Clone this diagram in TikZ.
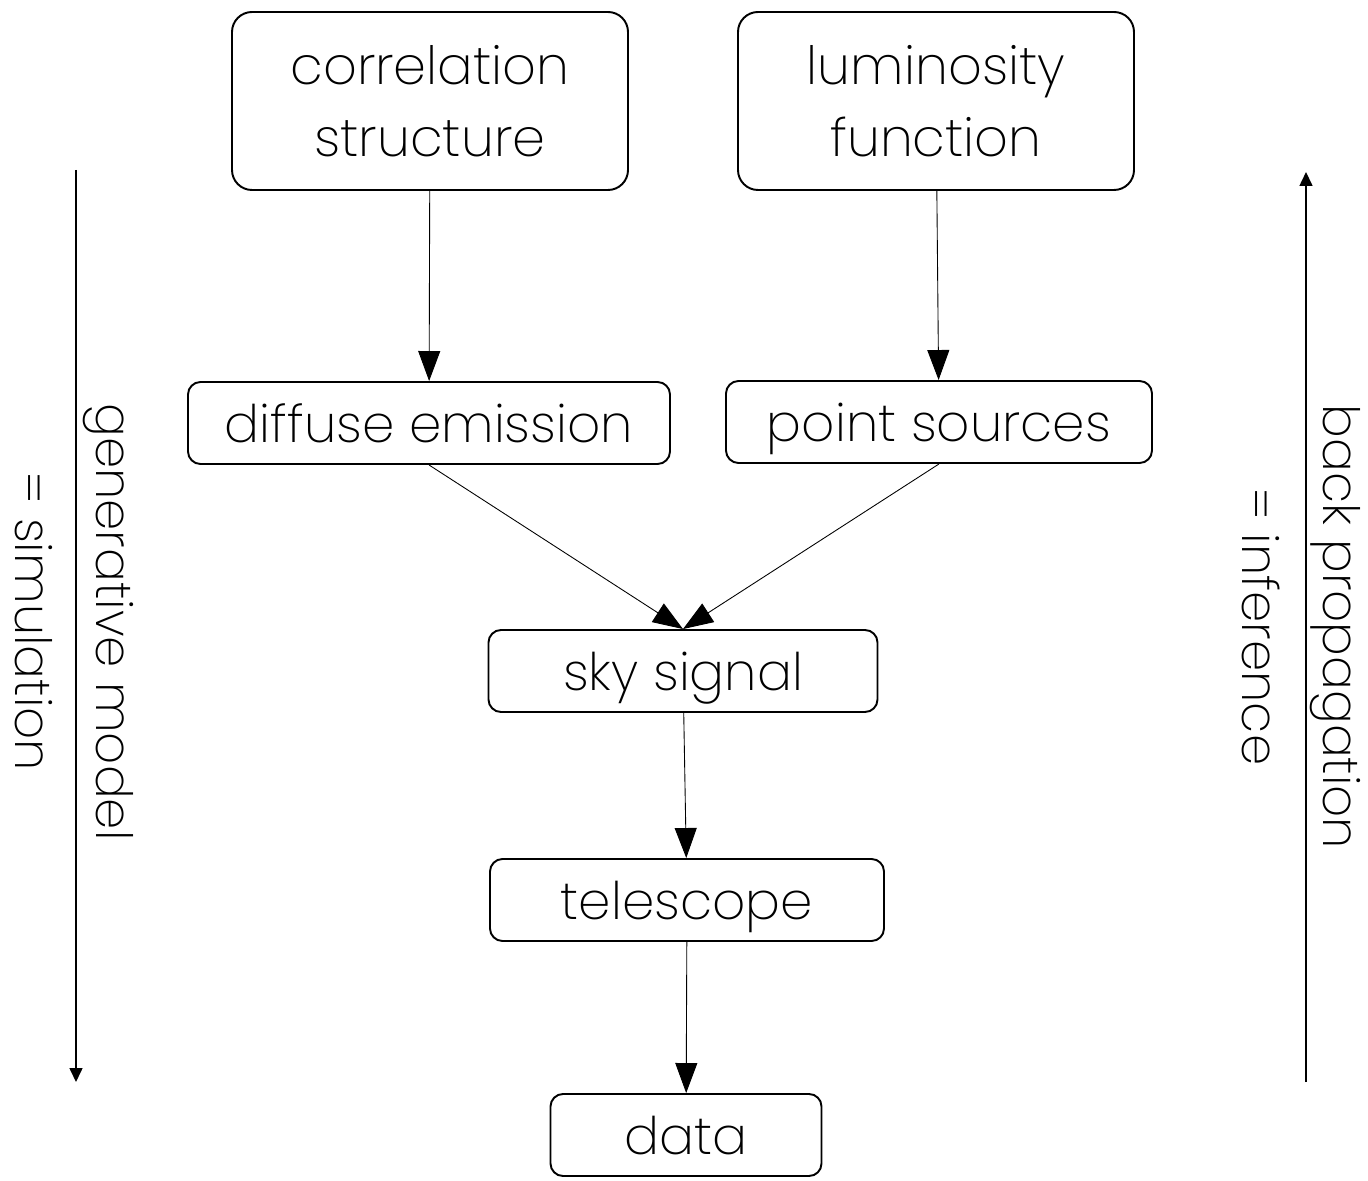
\documentclass[tikz,border=0pt]{standalone}
\usepackage{fontspec}
\setmainfont{Poppins}[UprightFont=* ExtraLight]
\usetikzlibrary{arrows.meta}

\tikzset{
    bigbox/.style={draw, line width=1.1pt, rounded corners=0.4cm, minimum width=7.92cm, minimum height=3.56cm, align=center, font=\fontsize{30}{41}\selectfont},
    smallbox/.style={draw, line width=1.1pt, rounded corners=0.25cm, minimum height=1.64cm, inner sep=0pt, text height=22pt, text depth=0pt, font=\fontsize{29.5}{36}\selectfont},
    flow/.style={line width=0.5pt, -{Triangle[length=0.6cm, width=0.44cm]}},
    sidelabel/.style={rotate=-90, align=center, font=\fontsize{28.5}{46}\selectfont},
    sidearrow/.style={line width=0.9pt, -{Triangle[length=0.28cm, width=0.26cm]}}
}

\begin{document}
\begin{tikzpicture}[x=1cm, y=1cm]
    \useasboundingbox (0,0) rectangle (27.36,23.6);

    % Knoten des Modells
    \node[bigbox] (corr) at (8.6,21.58) {correlation\\structure};
    \node[bigbox] (lum) at (18.72,21.58) {luminosity\\function};
    \node[smallbox, minimum width=9.64cm] (diff) at (8.58,15.14) {diffuse emission};
    \node[smallbox, minimum width=8.52cm] (point) at (18.78,15.16) {point sources};
    \node[smallbox, minimum width=7.78cm] (sky) at (13.66,10.18) {sky signal};
    \node[smallbox, minimum width=7.88cm] (tel) at (13.74,5.6) {telescope};
    \node[smallbox, minimum width=5.42cm] (data) at (13.72,0.9) {data};

    % Verbindungen
    \draw[flow] (corr) -- (diff);
    \draw[flow] (lum) -- (point);
    \draw[flow] (diff.south) -- (sky.north);
    \draw[flow] (point.south) -- (sky.north);
    \draw[flow] (sky) -- (tel);
    \draw[flow] (tel) -- (data);

    % Richtungspfeile am Rand
    \coordinate (gtop) at (1.52,20.2);
    \coordinate (gbot) at (1.52,1.96);
    \coordinate (btop) at (26.12,20.16);
    \coordinate (bbot) at (26.12,1.96);
    \draw[sidearrow] (gtop) -- (gbot);
    \draw[sidearrow] (bbot) -- (btop);
    \node[sidelabel] (gen) at (1.48,11.16) {generative model\\= simulation};
    \node[sidelabel] (back) at (26.02,11.06) {back propagation\\= inference};
\end{tikzpicture}
\end{document}
